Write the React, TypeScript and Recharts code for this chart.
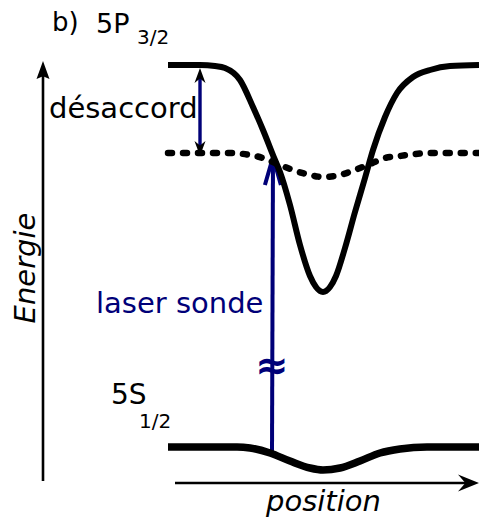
import React from 'react';
import { ComposedChart, Line, XAxis, YAxis, ReferenceLine, ReferenceDot } from 'recharts';

// Excited level 5P3/2 (solid), light-shifted probe level (dotted), ground 5S1/2 (solid)
const upperPosition = [168, 200, 215, 225, 240, 253, 263, 275, 280, 290, 300, 310, 316, 323, 330, 336, 345, 355, 365, 373, 385, 397, 413, 430, 450, 479];
const upperEnergy = [65, 65, 66, 68, 80, 107, 130, 160, 172, 205, 245, 276, 287, 292, 287, 276, 248, 212, 178, 150, 117, 93, 77, 70, 66, 65];

const shiftedPosition = [168, 230, 250, 263, 275, 293, 310, 323, 340, 355, 370, 385, 400, 415, 430, 479];
const shiftedEnergy = [153, 153, 155, 158, 163, 170, 175, 177, 175, 170, 164, 158, 156, 154, 153, 153];

const groundPosition = [168, 237, 250, 270, 290, 310, 323, 340, 360, 380, 400, 427, 479];
const groundEnergy = [447, 447, 448, 453, 461, 468, 470, 468, 461, 453, 449, 447, 447];

const energyAxis = [{ x: 43, y: 481 }, { x: 43, y: 61 }];
const positionAxis = [{ x: 175, y: 483 }, { x: 479, y: 483 }];
const detuning = [{ x: 200, y: 68 }, { x: 200, y: 156 }];
const probe = [{ x: 272, y: 452 }, { x: 273, y: 157 }];

const upperData = upperPosition.map((x, i) => ({ x, e: upperEnergy[i] }));
const shiftedData = shiftedPosition.map((x, i) => ({ x, e: shiftedEnergy[i] }));
const groundData = groundPosition.map((x, i) => ({ x, e: groundEnergy[i] }));

const NAVY = '#000078';
const FONT = '"DejaVu Sans", sans-serif';

type ArrowOpts = {
  color: string;
  headColor: string;
  width: number;
  len: number;
  half: number;
  notch: number;
  both?: boolean;
  open?: boolean;
};

function arrowShape(o: ArrowOpts) {
  return (p: any) => {
    const { x1, y1, x2, y2 } = p;
    const dx = x2 - x1;
    const dy = y2 - y1;
    const d = Math.hypot(dx, dy) || 1;
    const ux = dx / d;
    const uy = dy / d;
    const nx = -uy;
    const ny = ux;
    const head = (tx: number, ty: number, vx: number, vy: number, key: string) => {
      const bx = tx - vx * o.len;
      const by = ty - vy * o.len;
      const l = [bx + nx * o.half, by + ny * o.half];
      const r = [bx - nx * o.half, by - ny * o.half];
      if (o.open) {
        return (
          <polyline
            key={key}
            points={`${l[0]},${l[1]} ${tx},${ty} ${r[0]},${r[1]}`}
            fill="none"
            stroke={o.headColor}
            strokeWidth={o.width}
            strokeLinejoin="miter"
          />
        );
      }
      const m = [tx - vx * o.len * (1 - o.notch), ty - vy * o.len * (1 - o.notch)];
      return (
        <polygon
          key={key}
          points={`${tx},${ty} ${l[0]},${l[1]} ${m[0]},${m[1]} ${r[0]},${r[1]}`}
          fill={o.headColor}
        />
      );
    };
    const back = o.open ? 0.1 : 0.6;
    const sx = o.both ? x1 + ux * o.len * back : x1;
    const sy = o.both ? y1 + uy * o.len * back : y1;
    const ex = x2 - ux * o.len * back;
    const ey = y2 - uy * o.len * back;
    return (
      <g>
        <line x1={sx} y1={sy} x2={ex} y2={ey} stroke={o.color} strokeWidth={o.width} />
        {head(x2, y2, ux, uy, 'h2')}
        {o.both ? head(x1, y1, -ux, -uy, 'h1') : null}
      </g>
    );
  };
}

function label(text: string, opts: { size: number; color?: string; italic?: boolean; rotate?: boolean; anchor?: string; weight?: string }) {
  return (p: any) => (
    <text
      x={p.cx}
      y={p.cy}
      fontSize={opts.size}
      fontFamily={FONT}
      fontStyle={opts.italic ? 'italic' : 'normal'}
      fontWeight={opts.weight || 'normal'}
      fill={opts.color || '#000'}
      textAnchor={opts.anchor || 'start'}
      transform={opts.rotate ? `rotate(-90, ${p.cx}, ${p.cy})` : undefined}
    >
      {text}
    </text>
  );
}

export default function App() {
  return (
    <div style={{ position: 'absolute', left: 0, top: 0, width: 479, height: 519, background: '#fff' }}>
      <ComposedChart width={479} height={519} margin={{ top: 0, right: 0, bottom: 0, left: 0 }}>
        <XAxis type="number" dataKey="x" domain={[0, 479]} allowDataOverflow hide />
        <YAxis type="number" dataKey="e" domain={[0, 519]} reversed allowDataOverflow hide />

        <ReferenceLine
          segment={energyAxis}
          ifOverflow="visible"
          shape={arrowShape({ color: '#000', headColor: '#000', width: 2.6, len: 18, half: 6.5, notch: 0.15 })}
        />
        <ReferenceLine
          segment={positionAxis}
          ifOverflow="visible"
          shape={arrowShape({ color: '#000', headColor: '#000', width: 2.6, len: 21, half: 8.5, notch: 0.35 })}
        />
        <ReferenceLine
          segment={probe}
          ifOverflow="visible"
          shape={arrowShape({ color: NAVY, headColor: NAVY, width: 4, len: 28, half: 8, notch: 0, open: true })}
        />

        <Line data={groundData} dataKey="e" type="monotone" stroke="#000" strokeWidth={7.5} dot={false} activeDot={false} isAnimationActive={false} />
        <Line data={shiftedData} dataKey="e" type="monotone" stroke="#000" strokeWidth={6.5} strokeDasharray="4 11" strokeLinecap="round" dot={false} activeDot={false} isAnimationActive={false} />
        <Line data={upperData} dataKey="e" type="monotone" stroke="#000" strokeWidth={6} dot={false} activeDot={false} isAnimationActive={false} />

        <ReferenceLine
          segment={detuning}
          ifOverflow="visible"
          shape={arrowShape({ color: NAVY, headColor: '#000', width: 3.4, len: 15, half: 5.5, notch: 0.3, both: true })}
        />

        <ReferenceDot x={52} y={31} ifOverflow="visible" shape={label('b)', { size: 26 })} />
        <ReferenceDot x={96} y={33} ifOverflow="visible" shape={label('5P', { size: 27 })} />
        <ReferenceDot x={137} y={44} ifOverflow="visible" shape={label('3/2', { size: 20 })} />
        <ReferenceDot x={49} y={118} ifOverflow="visible" shape={label('désaccord', { size: 29 })} />
        <ReferenceDot x={96} y={313} ifOverflow="visible" shape={label('laser sonde', { size: 29, color: NAVY })} />
        <ReferenceDot x={272} y={379} ifOverflow="visible" shape={label('≈', { size: 40, color: NAVY, anchor: 'middle', weight: 'bold' })} />
        <ReferenceDot x={111} y={404} ifOverflow="visible" shape={label('5S', { size: 28 })} />
        <ReferenceDot x={139} y={428} ifOverflow="visible" shape={label('1/2', { size: 20 })} />
        <ReferenceDot x={35} y={268} ifOverflow="visible" shape={label('Energie', { size: 29, italic: true, rotate: true, anchor: 'middle' })} />
        <ReferenceDot x={266} y={511} ifOverflow="visible" shape={label('position', { size: 29, italic: true })} />
      </ComposedChart>
    </div>
  );
}
